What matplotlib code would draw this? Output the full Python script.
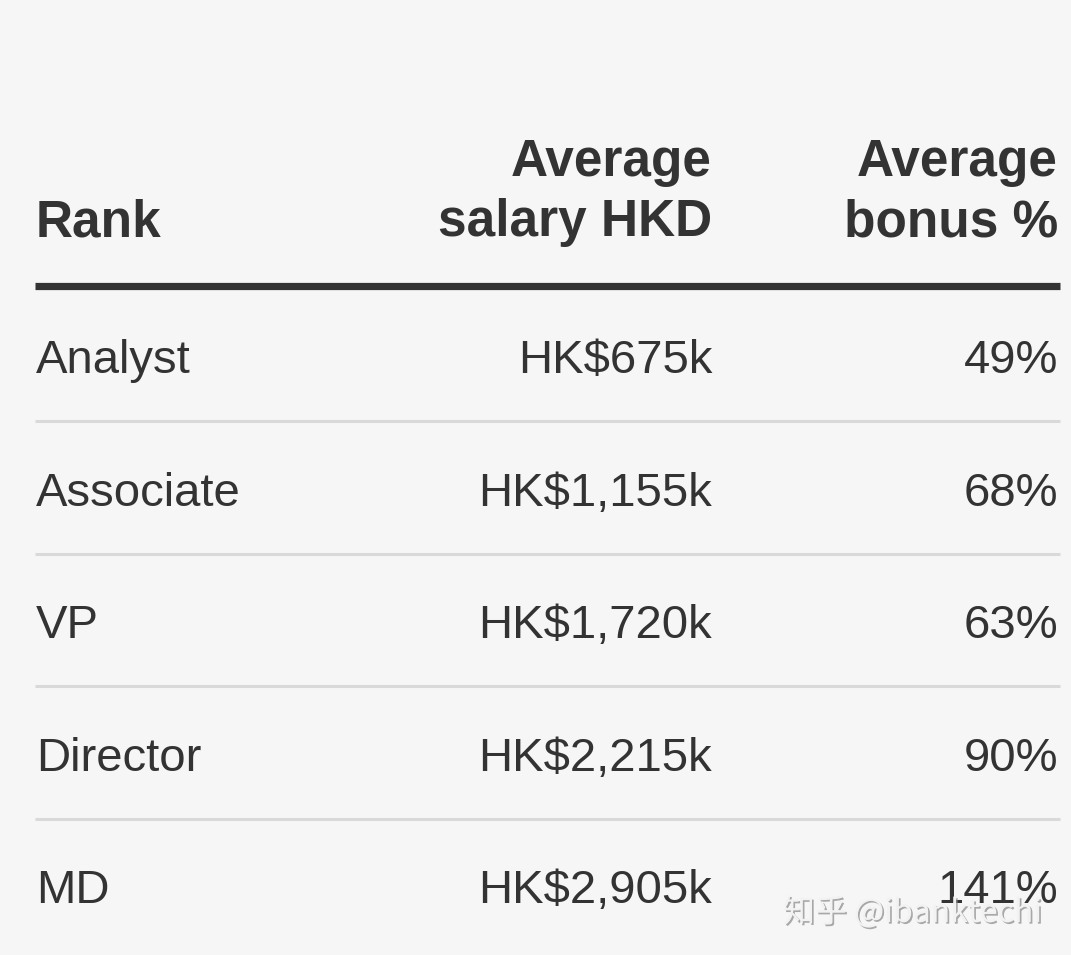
import matplotlib.pyplot as plt
import matplotlib.patheffects as pe

plt.rcParams['font.family'] = ['Liberation Sans', 'Noto Sans CJK SC', 'DejaVu Sans']

# table data
ranks = ['Analyst', 'Associate', 'VP', 'Director', 'MD']
salary_k = [675, 1155, 1720, 2215, 2905]
bonus_pct = [49, 68, 63, 90, 141]
headers = ['Rank', 'Average\nsalary HKD', 'Average\nbonus %']

W, H = 1071, 955
bg = '#f6f6f6'
ink = '#333333'

fig = plt.figure(figsize=(W / 100, H / 100), dpi=100, facecolor=bg)
ax = fig.add_axes([0, 0, 1, 1])
ax.set_xlim(0, W)
ax.set_ylim(H, 0)
ax.axis('off')
ax.set_facecolor(bg)

left, mid, right = 36, 712, 1058

# header (bottom line baseline at 236)
ax.text(left, 236, headers[0], ha='left', va='baseline', fontsize=37,
        fontweight='bold', color=ink)
ax.text(mid, 236, headers[1], ha='right', va='baseline', fontsize=37,
        fontweight='bold', color=ink, linespacing=1.28, multialignment='right')
ax.text(right, 236, headers[2], ha='right', va='baseline', fontsize=37,
        fontweight='bold', color=ink, linespacing=1.28, multialignment='right')

# thick rule under header
ax.plot([35, 1060], [286, 286], color=ink, lw=5.2, solid_capstyle='butt')

first = 373
step = 132.5
for i, (r, s, b) in enumerate(zip(ranks, salary_k, bonus_pct)):
    y = first + i * step
    ax.text(left, y, r, ha='left', va='baseline', fontsize=34, color=ink)
    ax.text(mid, y, f'HK${s:,}k', ha='right', va='baseline', fontsize=34, color=ink)
    ax.text(right, y, f'{b}%', ha='right', va='baseline', fontsize=34, color=ink)
    if i < len(ranks) - 1:
        ax.plot([35, 1060], [y + 48, y + 48], color='#d9d9d9', lw=2.2,
                solid_capstyle='butt')

# watermark
ax.text(783, 922, '知乎 @ibanktechi', ha='left', va='baseline', fontsize=23,
        color='#f2f2f2', family=['Noto Sans CJK SC', 'DejaVu Sans'],
        path_effects=[pe.SimplePatchShadow(offset=(1.2, -1.2), shadow_rgbFace='#888888', alpha=0.7),
                      pe.Normal()])

fig.savefig('out.png', dpi=100, facecolor=bg)
